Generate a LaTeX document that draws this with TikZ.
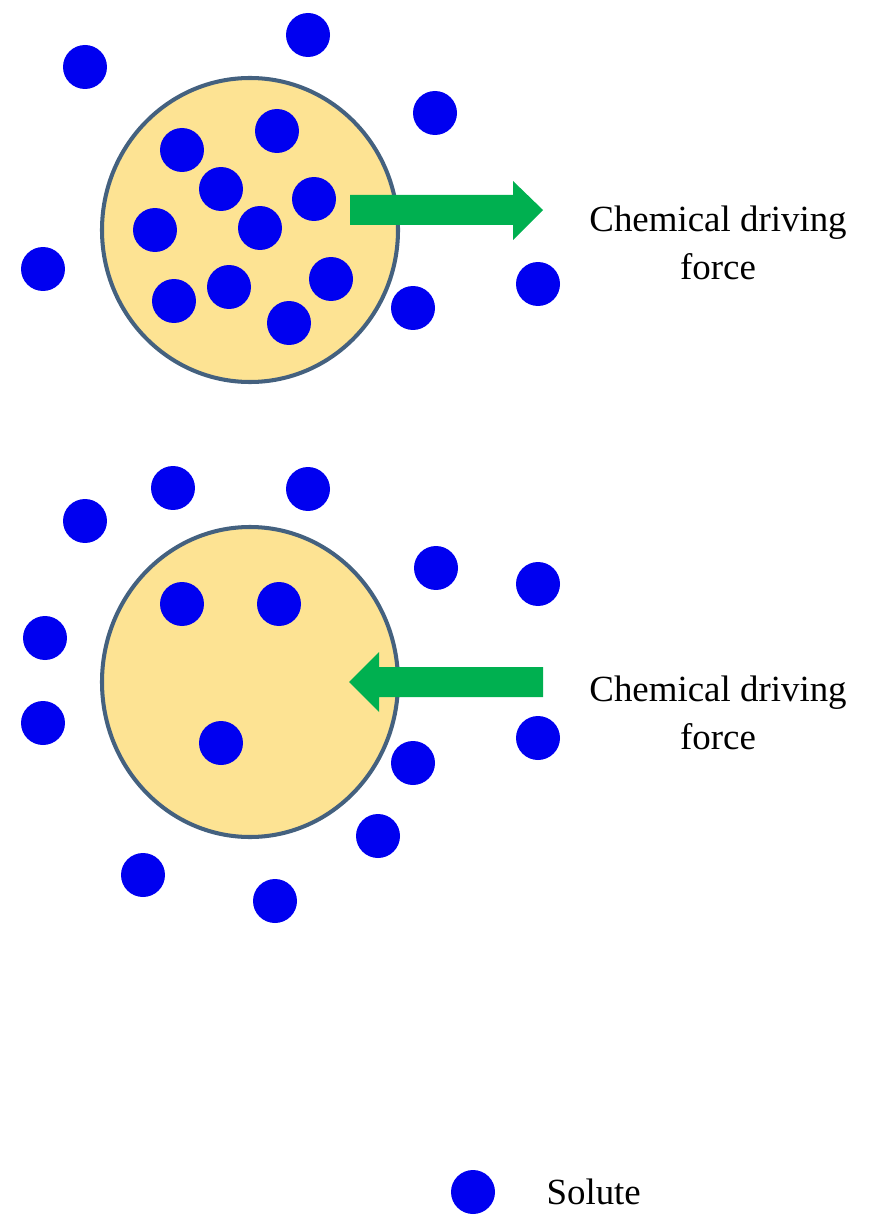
\documentclass[tikz,border=0pt]{standalone}
\usepackage{fontspec}
\setmainfont{Liberation Serif}
\usetikzlibrary{positioning}
\definecolor{grain}{HTML}{FDE393}
\definecolor{rim}{HTML}{44617F}
\definecolor{solute}{HTML}{0000F0}
\definecolor{force}{HTML}{00B050}
\tikzset{
  dot/.style={circle, fill=solute, inner sep=0pt, minimum size=0.88cm},
  label/.style={font=\fontsize{21}{27}\selectfont, align=center}
}
\begin{document}
\begin{tikzpicture}[x=0.02cm, y=-0.02cm]
                \useasboundingbox (0,0) rectangle (889,1229);
                % particles
                \draw[rim, line width=2.3pt, fill=grain] (250,230) ellipse (148 and 152);
                \draw[rim, line width=2.3pt, fill=grain] (250,682) ellipse (148 and 155);
                \foreach \x/\y in {308/35, 85/67, 435/113, 277/131, 182/150, 221/189,
                    314/199, 155/230, 260/228, 43/269, 331/279, 229/287, 174/301,
                    538/284, 413/308, 289/323}
                    \node[dot] at (\x,\y) {};
                \foreach \x/\y in {173/488, 308/489, 85/521, 436/568, 538/584, 182/604,
                    279/604, 45/638, 43/723, 538/738, 221/743, 413/763, 378/836,
                    143/875, 275/901}
                    \node[dot] at (\x,\y) {};
                % arrows
                \fill[force] (350,195) -- (513,195) -- (513,181) -- (543,210)
                    -- (513,240) -- (513,225) -- (350,225) -- cycle;
                \fill[force] (543,667) -- (379,667) -- (379,652) -- (349,682)
                    -- (379,712) -- (379,697) -- (543,697) -- cycle;
                \node[label] (top) at (718,243) {Chemical driving\\force};
                \node[label] (bottom) at (718,713) {Chemical driving\\force};
                % legend
                \node[dot] (key) at (473,1192) {};
                \node[label, right=0.9cm of key] (name) {Solute};
\end{tikzpicture}
\end{document}
